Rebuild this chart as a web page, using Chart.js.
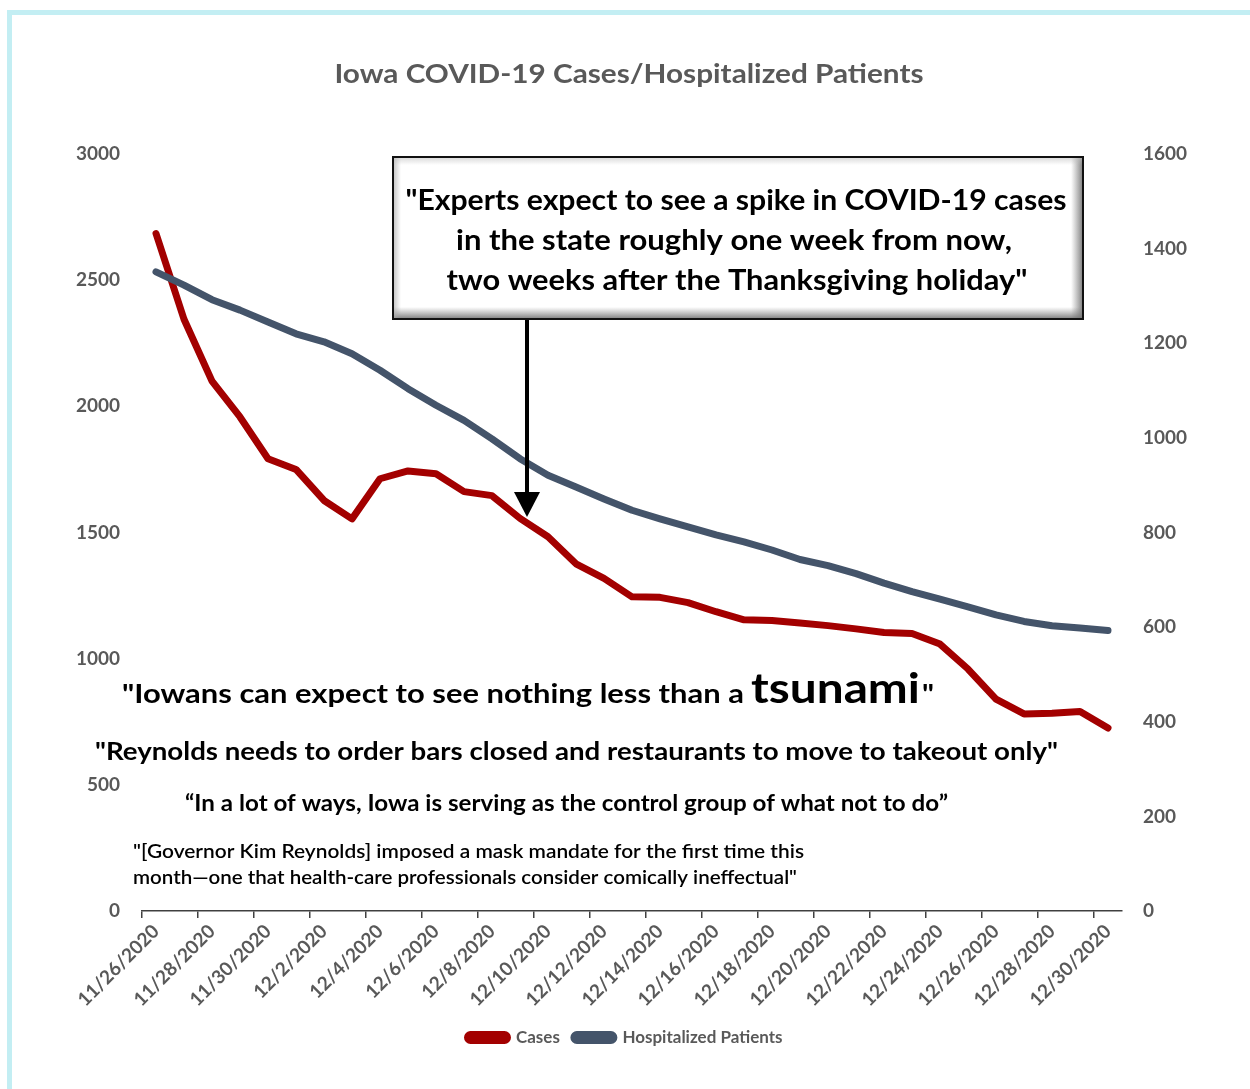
<!DOCTYPE html>
<html><head><meta charset="utf-8">
<script src="https://cdn.jsdelivr.net/npm/chart.js@4.4.1/dist/chart.umd.min.js"></script>
<style>
html,body{margin:0;padding:0;background:#fff;}
#wrap{position:relative;width:1250px;height:1089px;overflow:hidden;}
#frame{position:absolute;left:7px;top:10px;width:1300px;height:1200px;border-top:5px solid #c3eef3;border-left:5px solid #c3eef3;}
canvas{position:absolute;left:0;top:0;}
</style></head>
<body><div id="wrap"><div id="frame"></div><canvas id="c" width="1250" height="1089"></canvas></div>
<script>
const dates = ['11/26/2020','11/27/2020','11/28/2020','11/29/2020','11/30/2020','12/1/2020','12/2/2020','12/3/2020','12/4/2020','12/5/2020','12/6/2020','12/7/2020','12/8/2020','12/9/2020','12/10/2020','12/11/2020','12/12/2020','12/13/2020','12/14/2020','12/15/2020','12/16/2020','12/17/2020','12/18/2020','12/19/2020','12/20/2020','12/21/2020','12/22/2020','12/23/2020','12/24/2020','12/25/2020','12/26/2020','12/27/2020','12/28/2020','12/29/2020','12/30/2020'];
const cases = [2685,2345,2100,1958,1792,1750,1627,1554,1713,1744,1733,1662,1646,1556,1483,1376,1318,1245,1243,1222,1186,1154,1151,1141,1131,1118,1104,1100,1058,959,840,781,784,791,725];
const hospitalized = [1351,1323,1292,1270,1245,1220,1203,1178,1143,1104,1069,1037,998,956,921,896,871,847,829,812,795,780,763,743,730,713,693,675,659,643,626,612,603,598,593];
const seriesNames = ['Cases','Hospitalized Patients'];
const leftAxis = {min:0, max:3000, step:500};
const rightAxis = {min:0, max:1600, step:200};
const TITLE = 'Iowa COVID-19 Cases/Hospitalized Patients';
const boxLines = ['"Experts expect to see a spike in COVID-19 cases','in the state roughly one week from now,','two weeks after the Thanksgiving holiday"'];

const FF = 'Lato, "Open Sans", sans-serif';
const GREY = '#595959';

function fitText(ctx, text, x, y, w, font, align, color){
  ctx.save();
  ctx.font = font;
  ctx.fillStyle = color;
  ctx.textBaseline = 'alphabetic';
  ctx.textAlign = align;
  const m = ctx.measureText(text).width;
  const s = w / m;
  ctx.translate(x, y);
  ctx.scale(s, 1);
  ctx.fillText(text, 0, 0);
  ctx.restore();
}

const notes = {
  id:'notes',
  afterDatasetsDraw(chart){
    const ctx = chart.ctx;
    // title
    fitText(ctx, TITLE, 629, 83, 589, `bold 26px ${FF}`, 'center', GREY);
    // callout box
    const bx=393, by=157, bw=690, bh=162;
    ctx.save();
    ctx.fillStyle='#fff';
    ctx.fillRect(bx,by,bw,bh);
    let g = ctx.createLinearGradient(bx+bw-12,0,bx+bw,0);
    g.addColorStop(0,'rgba(130,130,130,0)'); g.addColorStop(1,'rgba(110,110,110,0.9)');
    ctx.fillStyle=g; ctx.fillRect(bx+bw-12,by,12,bh);
    g = ctx.createLinearGradient(0,by+bh-12,0,by+bh);
    g.addColorStop(0,'rgba(130,130,130,0)'); g.addColorStop(1,'rgba(110,110,110,0.9)');
    ctx.fillStyle=g; ctx.fillRect(bx,by+bh-12,bw,12);
    g = ctx.createLinearGradient(bx,0,bx+8,0);
    g.addColorStop(0,'rgba(170,170,170,0.7)'); g.addColorStop(1,'rgba(170,170,170,0)');
    ctx.fillStyle=g; ctx.fillRect(bx,by,8,bh);
    g = ctx.createLinearGradient(0,by,0,by+8);
    g.addColorStop(0,'rgba(190,190,190,0.6)'); g.addColorStop(1,'rgba(190,190,190,0)');
    ctx.fillStyle=g; ctx.fillRect(bx,by,bw,8);
    ctx.strokeStyle='#111'; ctx.lineWidth=2;
    ctx.strokeRect(bx,by,bw,bh);
    ctx.restore();
    fitText(ctx, boxLines[0], 736, 210, 661, `bold 28px ${FF}`, 'center', '#000');
    fitText(ctx, boxLines[1], 734, 250, 556, `bold 28px ${FF}`, 'center', '#000');
    fitText(ctx, boxLines[2], 737, 290, 581, `bold 28px ${FF}`, 'center', '#000');
    // arrow
    ctx.save();
    ctx.strokeStyle='#000'; ctx.lineWidth=4;
    ctx.beginPath(); ctx.moveTo(527,320); ctx.lineTo(527,496); ctx.stroke();
    ctx.fillStyle='#000';
    ctx.beginPath(); ctx.moveTo(514,492); ctx.lineTo(540,492); ctx.lineTo(527,517); ctx.closePath(); ctx.fill();
    ctx.restore();
    // quotes
    fitText(ctx, '"Iowans can expect to see nothing less than a', 122, 703, 622, `bold 26px ${FF}`, 'left', '#000');
    fitText(ctx, 'tsunami', 751, 703, 169, `bold 42px ${FF}`, 'left', '#000');
    fitText(ctx, '"', 922, 703, 12, `bold 26px ${FF}`, 'left', '#000');
    fitText(ctx, '"Reynolds needs to order bars closed and restaurants to move to takeout only"', 95, 760, 963, `bold 25px ${FF}`, 'left', '#000');
    fitText(ctx, '\u201CIn a lot of ways, Iowa is serving as the control group of what not to do\u201D', 185, 811, 763, `bold 22px ${FF}`, 'left', '#000');
    fitText(ctx, '"[Governor Kim Reynolds] imposed a mask mandate for the first time this', 133, 858, 671, `600 20px ${FF}`, 'left', '#000');
    fitText(ctx, 'month\u2014one that health-care professionals consider comically ineffectual"', 133, 884, 664, `600 20px ${FF}`, 'left', '#000');
  }
};

new Chart(document.getElementById('c'), {
  type:'line',
  data:{
    labels: dates,
    datasets:[
      {label:seriesNames[0], data:cases, yAxisID:'y', borderColor:'#a30000', backgroundColor:'#a30000', borderWidth:7, pointRadius:0, tension:0, borderCapStyle:'round', borderJoinStyle:'round', order:2},
      {label:seriesNames[1], data:hospitalized, yAxisID:'y1', borderColor:'#44546a', backgroundColor:'#44546a', borderWidth:7, pointRadius:0, tension:0, borderCapStyle:'round', borderJoinStyle:'round', order:1}
    ]
  },
  options:{
    responsive:false, animation:false,
    layout:{padding:{top:154, bottom:33, left:0, right:0}},
    plugins:{
      title:{display:false},
      tooltip:{enabled:false},
      legend:{
        position:'bottom',
        labels:{
          sort:(a,b)=>a.datasetIndex-b.datasetIndex,
          boxWidth:40, boxHeight:6, padding:14, color:GREY,
          font:{family:FF, weight:'bold', size:17},
          useBorderRadius:true, borderRadius:3
        }
      }
    },
    scales:{
      x:{
        type:'category', offset:true,
        grid:{display:true, offset:true, drawOnChartArea:false, drawTicks:true, tickLength:7, lineWidth:1.5,
          color:(c)=> (typeof c.index==='number' && c.index%2===0) ? '#404040' : 'rgba(0,0,0,0)'},
        border:{display:true, color:'#404040', width:1.5},
        ticks:{autoSkip:false, minRotation:45, maxRotation:45, color:GREY, padding:2,
          font:{family:FF, weight:'bold', size:19},
          callback:(v,i)=> i%2===0 ? dates[i] : ''},
        afterFit:(s)=>{ s.height = 104; }
      },
      y:{
        position:'left', min:leftAxis.min, max:leftAxis.max,
        grid:{display:false, drawTicks:false}, border:{display:false},
        ticks:{stepSize:leftAxis.step, padding:22, color:GREY, font:{family:FF, weight:'bold', size:19},
          callback:(v)=>String(v)},
        afterFit:(s)=>{ s.width = 142; }
      },
      y1:{
        position:'right', min:rightAxis.min, max:rightAxis.max,
        grid:{display:false, drawTicks:false}, border:{display:false},
        ticks:{stepSize:rightAxis.step, padding:21, color:GREY, font:{family:FF, weight:'bold', size:19},
          callback:(v)=>String(v)},
        afterFit:(s)=>{ s.width = 128; }
      }
    }
  },
  plugins:[notes]
});
</script>
</body></html>
